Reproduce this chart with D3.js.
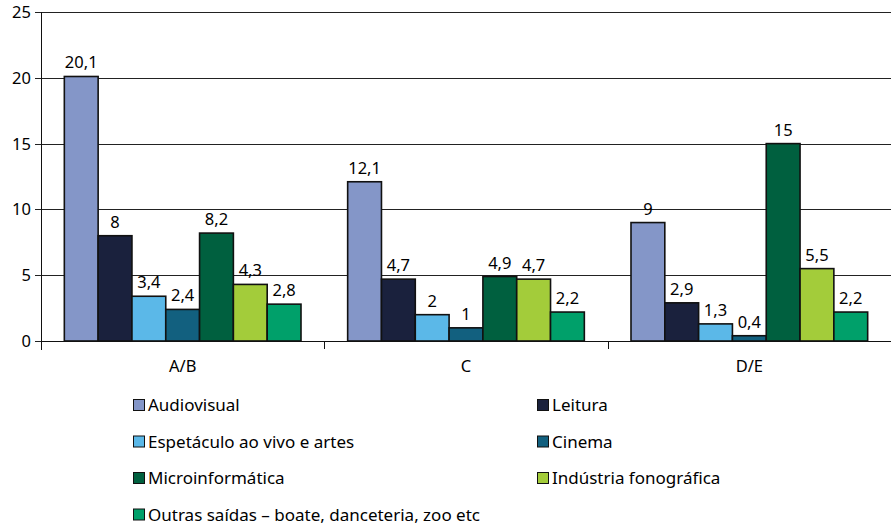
<!DOCTYPE html>
<html>
<head>
<meta charset="utf-8">
<script src="https://cdn.jsdelivr.net/npm/d3@7"></script>
<style>
  body { margin: 0; background: #fff; }
  svg text { font-family: "Noto Sans", "Open Sans", sans-serif; fill: #000; }
</style>
</head>
<body>
<svg id="chart" width="891" height="526"></svg>
<script>
  const groups = ['A/B', 'C', 'D/E'];
  const series = [
    'Audiovisual',
    'Leitura',
    'Espetáculo ao vivo e artes',
    'Cinema',
    'Microinformática',
    'Indústria fonográfica',
    'Outras saídas – boate, danceteria, zoo etc'
  ];
  const valuesAB = [20.1, 8, 3.4, 2.4, 8.2, 4.3, 2.8];
  const valuesC = [12.1, 4.7, 2, 1, 4.9, 4.7, 2.2];
  const valuesDE = [9, 2.9, 1.3, 0.4, 15, 5.5, 2.2];
  const yTicks = [0, 5, 10, 15, 20, 25];
  const colors = ['#8496c8', '#1a213d', '#5bb8e8', '#12607f', '#00603f', '#a3cc3a', '#00a06a'];

  const groupValues = [valuesAB, valuesC, valuesDE];

  const svg = d3.select('#chart');
  const margin = { left: 41, right: 0, top: 12, bottom: 185 };
  const width = +svg.attr('width');
  const height = +svg.attr('height');
  const plotBottom = height - margin.bottom;

  const x0 = d3.scaleBand().domain(groups).range([margin.left, width - margin.right]);
  const x1 = d3.scaleBand().domain(series).range([0, x0.bandwidth()]).paddingOuter(0.69);
  const y = d3.scaleLinear().domain([0, 25]).range([plotBottom, margin.top]);
  const color = d3.scaleOrdinal().domain(series).range(colors);
  const fmt = v => String(v).replace('.', ',');

  // grid lines
  svg.append('g')
    .selectAll('line')
    .data(yTicks)
    .enter()
    .append('line')
    .attr('x1', margin.left - 6)
    .attr('x2', width)
    .attr('y1', d => Math.round(y(d)) + 0.5)
    .attr('y2', d => Math.round(y(d)) + 0.5)
    .attr('stroke', '#222')
    .attr('stroke-width', 1);

  // y tick labels
  svg.append('g')
    .selectAll('text')
    .data(yTicks)
    .enter()
    .append('text')
    .attr('x', margin.left - 10)
    .attr('y', d => y(d) + 6)
    .attr('text-anchor', 'end')
    .style('font-size', '16.5px')
    .text(d => d);

  // y axis line
  svg.append('line')
    .attr('x1', margin.left + 0.5)
    .attr('x2', margin.left + 0.5)
    .attr('y1', margin.top)
    .attr('y2', plotBottom + 9)
    .attr('stroke', '#111');

  // bars
  const group = svg.append('g')
    .selectAll('g')
    .data(groups)
    .enter()
    .append('g')
    .attr('transform', d => `translate(${x0(d)},0)`);

  group.selectAll('rect')
    .data((g, i) => series.map((s, j) => ({ s, v: groupValues[i][j] })))
    .enter()
    .append('rect')
    .attr('x', d => x1(d.s))
    .attr('y', d => y(d.v))
    .attr('width', x1.bandwidth())
    .attr('height', d => plotBottom - y(d.v))
    .attr('fill', d => color(d.s))
    .attr('stroke', '#111')
    .attr('stroke-width', 1.6);

  group.selectAll('text')
    .data((g, i) => series.map((s, j) => ({ s, v: groupValues[i][j] })))
    .enter()
    .append('text')
    .attr('x', d => x1(d.s) + x1.bandwidth() / 2)
    .attr('y', d => y(d.v) - 8)
    .attr('text-anchor', 'middle')
    .style('font-size', '16.5px')
    .text(d => fmt(d.v));

  // x axis line and ticks
  svg.append('line')
    .attr('x1', margin.left)
    .attr('x2', width)
    .attr('y1', Math.round(plotBottom) + 0.5)
    .attr('y2', Math.round(plotBottom) + 0.5)
    .attr('stroke', '#111');

  svg.append('g')
    .selectAll('line')
    .data(groups.slice(1))
    .enter()
    .append('line')
    .attr('x1', d => Math.round(x0(d)) + 0.5)
    .attr('x2', d => Math.round(x0(d)) + 0.5)
    .attr('y1', plotBottom)
    .attr('y2', plotBottom + 8)
    .attr('stroke', '#111');

  svg.append('g')
    .selectAll('text')
    .data(groups)
    .enter()
    .append('text')
    .attr('x', d => x0(d) + x0.bandwidth() / 2)
    .attr('y', plotBottom + 31)
    .attr('text-anchor', 'middle')
    .style('font-size', '16.5px')
    .text(d => d);

  // legend
  const LEGEND_X = [133, 537];
  const LEGEND_Y = 405;
  const LEGEND_ROW = 36.5;
  const LEGEND_BOX = 11;

  const legendElem = svg.append('g')
    .selectAll('g')
    .data(series)
    .enter()
    .append('g')
    .attr('transform', (d, i) => `translate(${LEGEND_X[i % 2]},${LEGEND_Y + Math.floor(i / 2) * LEGEND_ROW})`);

  legendElem.append('rect')
    .attr('x', 0.5)
    .attr('y', -LEGEND_BOX / 2)
    .attr('width', LEGEND_BOX)
    .attr('height', LEGEND_BOX)
    .attr('fill', d => color(d))
    .attr('stroke', '#111')
    .attr('stroke-width', 1);

  legendElem.append('text')
    .attr('x', LEGEND_BOX + 4)
    .attr('y', 6)
    .style('font-size', '17px')
    .text(d => d);
</script>
</body>
</html>
